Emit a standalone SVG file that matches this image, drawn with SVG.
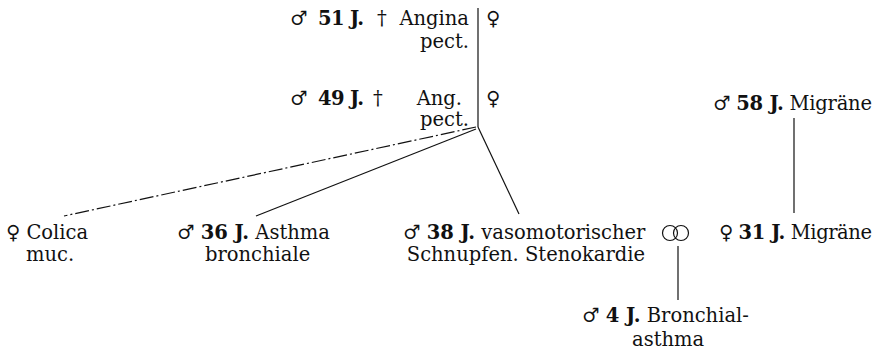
<svg xmlns="http://www.w3.org/2000/svg" width="879" height="350" viewBox="0 0 879 350">
<style>
text{font-family:"DejaVu Serif","Liberation Serif",serif;font-size:19.5px;fill:#111}
.b{font-weight:bold}
.l{stroke:#111;stroke-width:1.2;fill:none}
.r{text-anchor:end}
</style>
<rect width="879" height="350" fill="#fff"/>
<g id="connectors">
<line class="l" x1="478" y1="8" x2="478" y2="127"/>
<line class="l" x1="476" y1="127" x2="64" y2="216" stroke-dasharray="14,3,2,3" stroke-width="0.9"/>
<line class="l" x1="476" y1="129" x2="256" y2="216"/>
<line class="l" x1="478" y1="127" x2="519" y2="214"/>
<line class="l" x1="794" y1="118" x2="794" y2="213"/>
<line class="l" x1="678" y1="246" x2="678" y2="300"/>
</g>
<g id="n51">
<text x="290" y="25">♂</text>
<text class="b" x="318" y="25" textLength="46">51 J.</text>
<text x="377" y="25">†</text>
<text class="r" x="469" y="25">Angina</text>
<text class="r" x="469" y="48">pect.</text>
<text x="486" y="25">♀</text>
</g>
<g id="n49">
<text x="290" y="105">♂</text>
<text class="b" x="318" y="105" textLength="46">49 J.</text>
<text x="373" y="105">†</text>
<text class="r" x="462" y="105">Ang.</text>
<text class="r" x="469" y="126">pect.</text>
<text x="486" y="105">♀</text>
</g>
<g id="n58">
<text x="713" y="110" textLength="159">♂ <tspan class="b">58 J.</tspan> Migräne</text>
</g>
<g id="n31">
<text x="719" y="239" textLength="153">♀ <tspan class="b">31 J.</tspan> Migräne</text>
</g>
<g id="rings">
<circle class="l" cx="670" cy="233" r="7.5" stroke-width="2"/>
<circle class="l" cx="681" cy="233" r="7.5" stroke-width="2"/>
</g>
<g id="n4">
<text x="582" y="322">♂ <tspan class="b">4 J.</tspan> Bronchial-</text>
<text x="632" y="346">asthma</text>
</g>
<g id="ncolica">
<text x="6" y="239">♀ Colica</text>
<text x="26" y="261">muc.</text>
</g>
<g id="n36">
<text x="177" y="239">♂ <tspan class="b">36 J.</tspan> Asthma</text>
<text x="205" y="261">bronchiale</text>
</g>
<g id="n38">
<text x="403" y="239">♂ <tspan class="b">38 J.</tspan> vasomotorischer</text>
<text class="r" x="645" y="261">Schnupfen. Stenokardie</text>
</g>
</svg>
